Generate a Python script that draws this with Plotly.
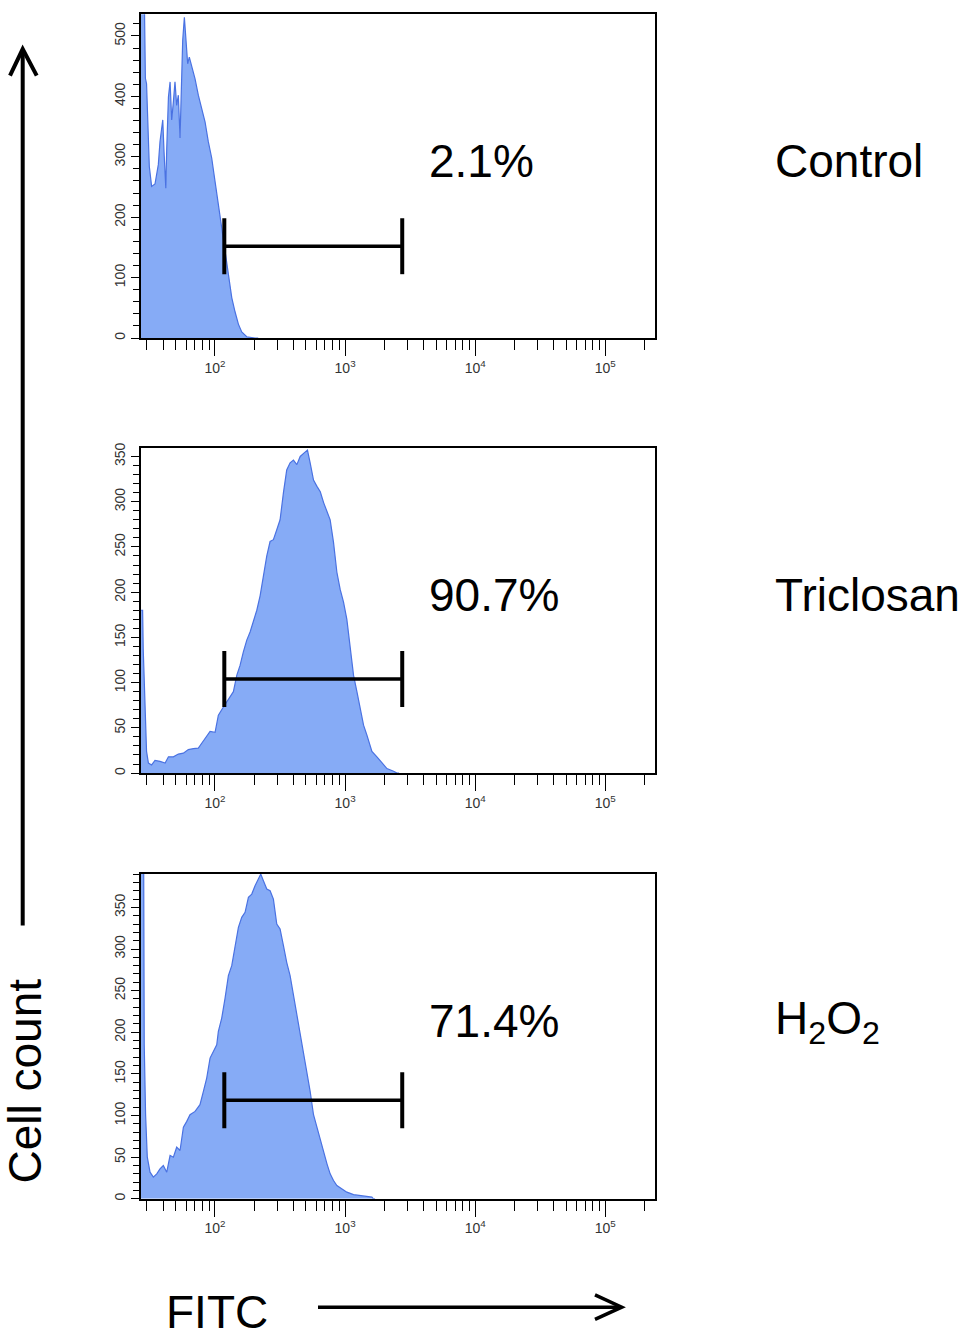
import plotly.graph_objects as go

W, H = 975, 1336


def px(x):
    # window pixel -> paper fraction (figure has no margins)
    return x / W


def py(y):
    return 1 - y / H


# Control
control_fitc = [26, 28.5, 29.2, 29.8, 31.3, 32.6, 34.6, 36.7, 37.8, 39.0, 39.7, 40.6, 41.9, 42.6, 43.9, 45.2,
                46.5, 47.9, 49.3, 50.8, 52.3, 53.9, 54.8, 56.5, 58.2, 59.9, 61.7, 63.5, 66.3, 70.3, 74.5, 79.1,
                83.9, 88.9, 94.4, 100.2, 106.2, 112.7, 119.6, 126.8, 134.6, 142.8, 151.4, 160.6, 175.5, 203.3, 215]
control_count = [600, 600, 430, 421, 284, 251, 255, 287, 325, 347, 361, 309, 248, 314, 399, 424,
                 361, 391, 424, 385, 402, 331, 391, 493, 531, 484, 454, 465, 451, 429, 402, 380,
                 358, 325, 298, 259, 221, 182, 138, 100, 67, 43, 23, 10, 2, 0, 0]

# Triclosan
triclosan_fitc = [26, 27.8, 28.1, 29.0, 29.8, 30.8, 32.6, 34.6, 37.8, 41.4, 43.9, 47.9, 52.3, 57.2, 62.4,
                  68.2, 74.5, 79.1, 86.4, 91.7, 100.2, 106.2, 116.1, 126.8, 138.6, 147.1, 155.9, 165.3, 175.6,
                  186.2, 197.4, 209.7, 222.3, 235.7, 250.2, 265.3, 281.3, 298.6, 316.6, 336, 356, 378, 401,
                  426, 452, 485, 514, 539, 572, 608, 645, 684, 726, 768, 815, 865, 917, 973, 1032, 1096,
                  1162, 1233, 1307, 1387, 1472, 1608, 1757, 1919, 2097, 2360, 2503, 2600]
triclosan_count = [180, 180, 137, 64, 24, 11, 9, 14, 13, 11, 18, 18, 21, 22, 26,
                   27, 27.5, 33, 40, 46, 45, 64, 73, 81, 90, 108, 119, 134, 147,
                   156, 167, 180, 196, 218, 240, 256, 258, 269, 280, 310, 335, 343, 346,
                   341, 350, 354, 357, 343, 324, 317, 311, 299, 288, 280, 255, 222, 203, 189, 170, 137,
                   108, 90, 71, 53, 42, 24, 18, 11, 5, 2, 0, 0]

# H2O2
h2o2_fitc = [26, 28.3, 28.6, 29.3, 30.2, 31.7, 33.6, 35.7, 37.8, 40.1, 42.6, 45.2, 47.9, 50.8, 53.9,
             57.2, 60.7, 64.3, 70.3, 76.7, 81.5, 86.4, 91.7, 97.2, 103.2, 106.2, 112.7, 119.6, 126.8,
             134.6, 142.8, 151.4, 160.6, 170.4, 180.8, 191.8, 203.3, 215.8, 224.9, 235.7, 250.2, 265.3,
             281.3, 298.6, 316.6, 336, 356, 378, 401, 426, 452, 479, 508, 539, 572, 608, 645, 684, 726,
             768, 815, 865, 944, 1032, 1162, 1387, 1608, 1652, 1700]
h2o2_count = [420, 420, 185, 101, 50, 32, 26, 30, 36, 40, 32, 52, 50, 62, 58,
              86, 93, 101, 105, 113, 129, 145, 169, 177, 185, 201, 217, 241, 268,
              280, 304, 326, 338, 344, 362, 366, 376, 384, 390, 382, 372, 370,
              360, 330, 324, 304, 284, 268, 245, 221, 197, 173, 153, 129, 101, 86, 70, 54, 42,
              30, 22, 16, 12, 8, 5, 3, 2, 0, 0]

sample_names = ["Control", "Triclosan", "H<sub>2</sub>O<sub>2</sub>"]
gate_percent = ["2.1%", "90.7%", "71.4%"]
gate_fitc = [118, 2750]
gate_height = [152, 104, 118.5]
y_max = [536, 359, 390]
y_major = [100, 50, 50]
y_minor = [20, 10, 10]
x_tickvals = [100, 1000, 10000, 100000]
x_ticktext = ["10<sup>2</sup>", "10<sup>3</sup>", "10<sup>4</sup>", "10<sup>5</sup>"]

series = [(control_fitc, control_count), (triclosan_fitc, triclosan_count), (h2o2_fitc, h2o2_count)]

# panel boxes in window pixels (top, bottom)
panel_px = [(8.3, 334), (445, 771.7), (873.3, 1200)]
x_left, x_right = 140.6, 655

FILL = "#86abf6"
EDGE = "#4a72e2"
FONT = "Liberation Sans, Arial, sans-serif"

minor_x = [m * 10 ** e for e in range(1, 6) for m in range(2, 10)]

fig = go.Figure()
layout = {}
annotations = []

for i, (fx, cnt) in enumerate(series):
    n = "" if i == 0 else str(i + 1)
    fig.add_trace(go.Scatter(
        x=fx, y=cnt, mode="lines", fill="tozeroy",
        fillcolor=FILL, line=dict(color=EDGE, width=1.2),
        xaxis="x" + n, yaxis="y" + n, hoverinfo="skip"
    ))
    # gate bar
    fig.add_trace(go.Scatter(
        x=gate_fitc, y=[gate_height[i]] * 2, mode="lines+markers",
        line=dict(color="black", width=3.5),
        marker=dict(symbol="line-ns", size=40, line=dict(color="black", width=4)),
        xaxis="x" + n, yaxis="y" + n, hoverinfo="skip"
    ))

    top, bot = panel_px[i]
    layout["xaxis" + n] = dict(
        type="log", range=[1.4285, 5.382], domain=[px(x_left), px(x_right)],
        anchor="y" + n, showline=True, linecolor="black", linewidth=1.5, mirror=True,
        showgrid=False, zeroline=False, ticks="outside", ticklen=16, tickwidth=1.3,
        tickcolor="black", tickmode="array", tickvals=x_tickvals, ticktext=x_ticktext,
        tickfont=dict(family="Liberation Sans Narrow, Arial Narrow, " + FONT, size=14, color="#333"),
        minor=dict(tickmode="array", tickvals=minor_x, ticks="outside", ticklen=10,
                   tickwidth=1.3, tickcolor="black", showgrid=False),
    )
    layout["yaxis" + n] = dict(
        range=[0, y_max[i]], domain=[py(bot), py(top)], anchor="x" + n,
        showline=True, linecolor="black", linewidth=1.5, mirror=True,
        showgrid=False, zeroline=False, ticks="outside", ticklen=8, tickwidth=1.2,
        tickcolor="black", dtick=y_major[i], tick0=0, tickangle=-90,
        tickfont=dict(family=FONT, size=14, color="#333"),
        minor=dict(dtick=y_minor[i], tick0=0, ticks="outside", ticklen=6, tickwidth=1.2,
                   tickcolor="black", showgrid=False),
    )

    annotations.append(dict(
        x=px(427), y=py(top + 148), xref="paper", yref="paper", xanchor="left", yanchor="middle",
        text=gate_percent[i], showarrow=False, font=dict(family=FONT, size=46, color="black")
    ))
    annotations.append(dict(
        x=px(773), y=py(top + 148), xref="paper", yref="paper", xanchor="left", yanchor="middle",
        text=sample_names[i], showarrow=False, font=dict(family=FONT, size=46, color="black")
    ))

annotations.append(dict(
    x=px(25), y=py(1082), xref="paper", yref="paper", xanchor="center", yanchor="middle",
    text="Cell count", textangle=-90, showarrow=False, font=dict(family=FONT, size=46, color="black")
))
annotations.append(dict(
    x=px(164), y=py(1314), xref="paper", yref="paper", xanchor="left", yanchor="middle",
    text="FITC", showarrow=False, font=dict(family=FONT, size=46, color="black")
))

shapes = [
    # vertical arrow
    dict(type="line", xref="paper", yref="paper", x0=px(22.7), x1=px(22.7), y0=py(925), y1=py(46),
         line=dict(color="black", width=4)),
    dict(type="path", xref="paper", yref="paper",
         path=f"M {px(10)},{py(70)} L {px(22.7)},{py(43.3)} L {px(36.7)},{py(70)}",
         line=dict(color="black", width=4)),
    # horizontal arrow
    dict(type="line", xref="paper", yref="paper", x0=px(318), x1=px(619), y0=py(1309), y1=py(1309),
         line=dict(color="black", width=3.5)),
    dict(type="path", xref="paper", yref="paper",
         path=f"M {px(595)},{py(1296.7)} L {px(621.7)},{py(1309)} L {px(595)},{py(1321.3)}",
         line=dict(color="black", width=3.5)),
]

fig.update_layout(
    width=W, height=H, margin=dict(l=0, r=0, t=0, b=0),
    paper_bgcolor="white", plot_bgcolor="white", showlegend=False,
    annotations=annotations, shapes=shapes, **layout
)

# drop the default body margin so the figure fills the window exactly
fig.write_html("out.html", config={"displayModeBar": False},
               post_script="document.body.style.margin='0';")
